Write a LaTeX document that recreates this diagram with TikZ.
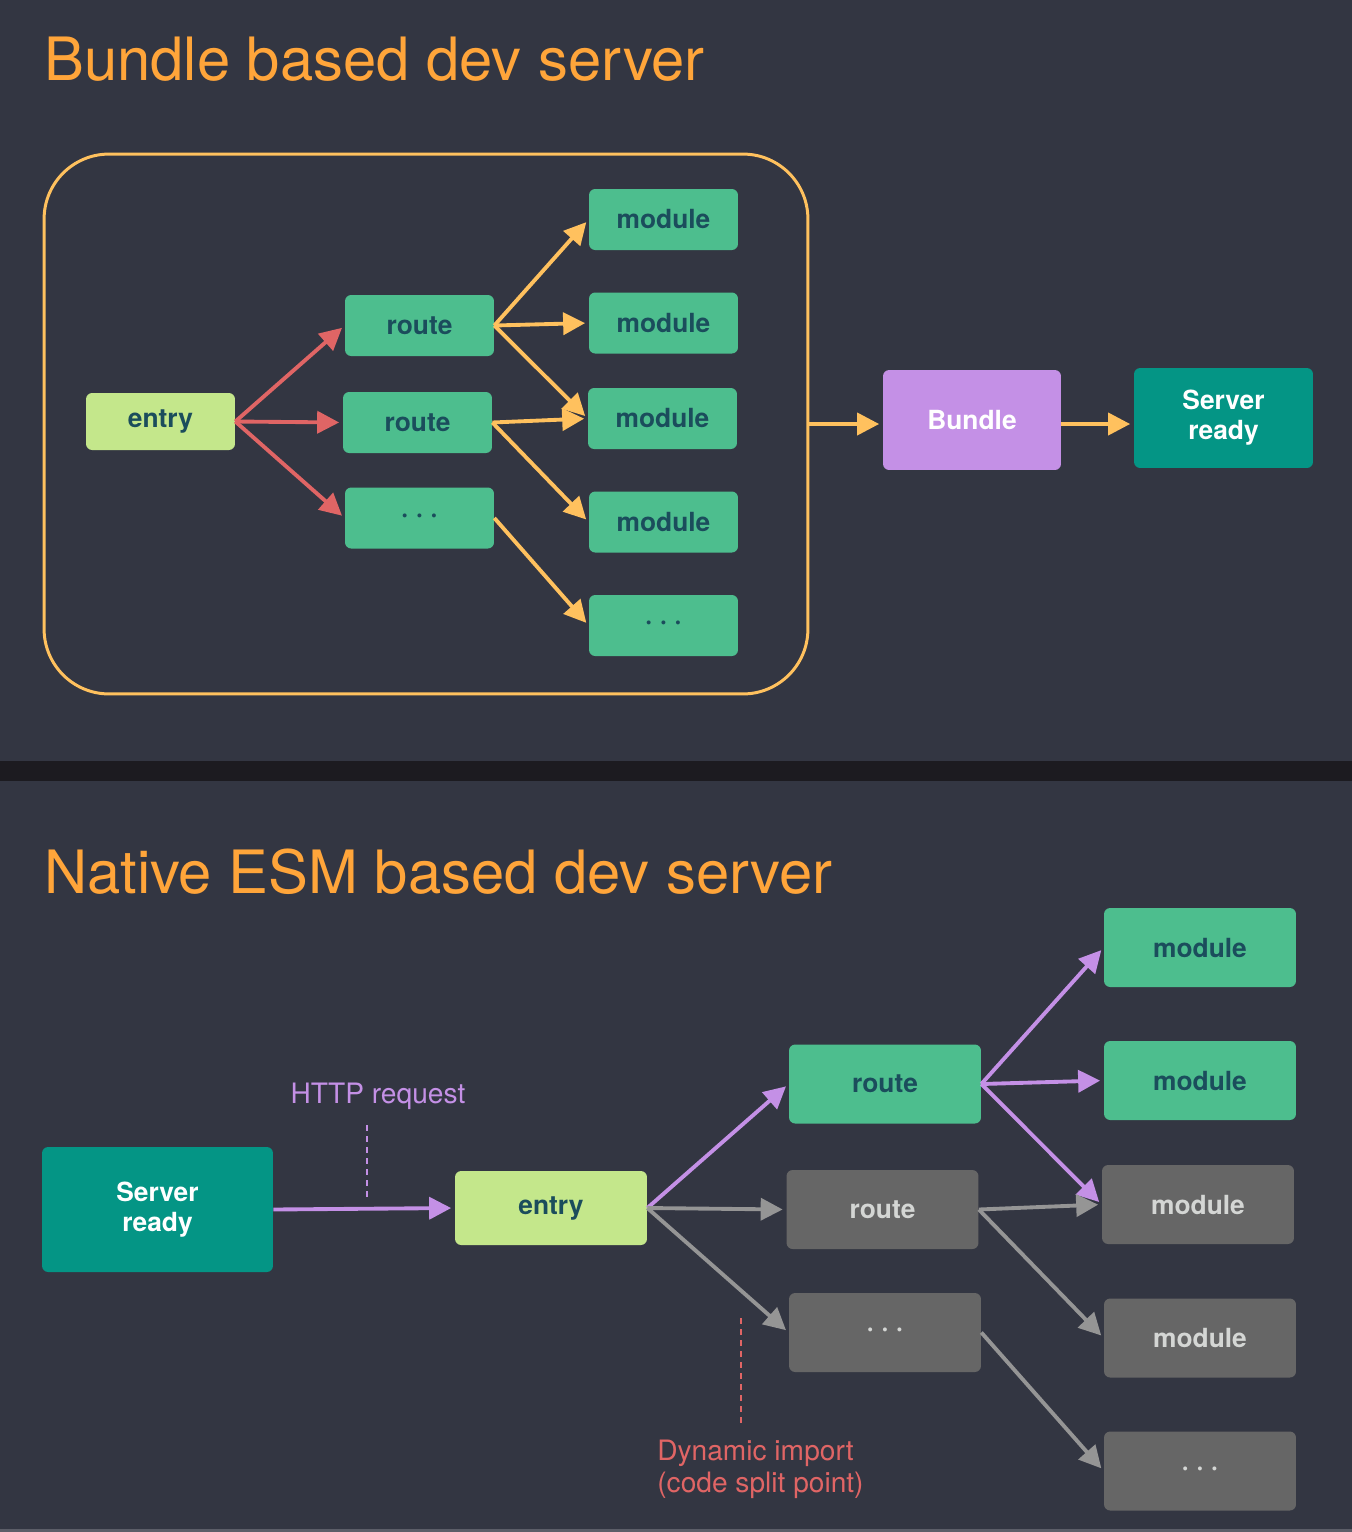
\documentclass[tikz,border=0pt]{standalone}
\usepackage{fontspec}
\setmainfont{TeX Gyre Heros}
\usetikzlibrary{arrows.meta}

\definecolor{bgcol}{HTML}{333642}
\definecolor{sepcol}{HTML}{1C1B20}
\definecolor{titlecol}{HTML}{FFA53A}
\definecolor{framecol}{HTML}{FFC15E}
\definecolor{redcol}{HTML}{E06565}
\definecolor{modgreen}{HTML}{4DBE8E}
\definecolor{darkteal}{HTML}{1B4D5C}
\definecolor{entrygreen}{HTML}{C4E78B}
\definecolor{purplecol}{HTML}{C490E6}
\definecolor{tealcol}{HTML}{049585}
\definecolor{graybox}{HTML}{666666}
\definecolor{graytext}{HTML}{D4D6D4}
\definecolor{grayarrow}{HTML}{959595}

\begin{document}
\begin{tikzpicture}[x=0.02cm,y=-0.02cm,
	box/.style={rounded corners=3.5pt,inner sep=0pt,align=center,font=\bfseries\fontsize{15}{17}\selectfont},
	greenbox/.style={box,fill=modgreen,text=darkteal},
	entrybox/.style={box,fill=entrygreen,text=darkteal},
	greybox/.style={box,fill=graybox,text=graytext},
	bundlebox/.style={box,fill=purplecol,text=white},
	serverbox/.style={box,fill=tealcol,text=white},
	small/.style={minimum width=2.98cm,minimum height=1.22cm},
	wide/.style={minimum width=3.84cm,minimum height=1.58cm},
	title/.style={anchor=base west,inner sep=0pt,text=titlecol,font=\fontsize{34}{40}\selectfont},
	note/.style={inner sep=0pt,font=\fontsize{16}{18}\selectfont},
	link/.style={line width=2.2pt,-{Triangle[length=0.44cm,width=0.44cm]},shorten >=2pt},
	redlink/.style={link,redcol},
	yellowlink/.style={link,framecol},
	purplelink/.style={link,purplecol},
	greylink/.style={link,grayarrow},
	dotline/.style={line width=1.4pt,dash pattern=on 0.12cm off 0.1cm}
]
	\useasboundingbox (0,0) rectangle (1352,1532);

	% background
	\fill[bgcol] (0,0) rectangle (1352,1532);
	\fill[sepcol] (0,761) rectangle (1352,781);
	\fill[bgcol!80!white] (0,1529) rectangle (1352,1532);

	% titles
	\node[title] (title1) at (44,80) {Bundle based dev server};
	\node[title] (title2) at (44,893) {Native ESM based dev server};

	% bundle based: blocks
	\node[draw=framecol,line width=1.7pt,rounded corners=1.3cm,minimum width=15.28cm,minimum height=10.8cm] (frame) at (426,424) {};

	\node[entrybox,minimum width=2.98cm,minimum height=1.14cm] (entry) at (160.5,421.5) {entry};
	\node[greenbox,small] (r1) at (419.5,325.5) {route};
	\node[greenbox,small] (r2) at (417.5,422.5) {route};
	\node[greenbox,small] (rd) at (419.5,518) {· · ·};
	\node[greenbox,small] (m1) at (663.5,219.5) {module};
	\node[greenbox,small] (m2) at (663.5,323) {module};
	\node[greenbox,small] (m3) at (662.5,418.5) {module};
	\node[greenbox,small] (m4) at (663.5,522) {module};
	\node[greenbox,small] (md) at (663.5,625.5) {· · ·};
	\node[bundlebox,minimum width=3.56cm,minimum height=2cm] (bundle) at (972,420) {Bundle};
	\node[serverbox,minimum width=3.58cm,minimum height=2cm] (srv) at (1223.5,418) {Server\\ready};

	% bundle based: links
	\draw[redlink] (entry.east) -- (r1.west);
	\draw[redlink] (entry.east) -- (r2.west);
	\draw[redlink] (entry.east) -- (rd.west);

	\draw[yellowlink] (r1.east) -- (m1.west);
	\draw[yellowlink] (r1.east) -- (m2.west);
	\draw[yellowlink] (r1.east) -- (m3.west);
	\draw[yellowlink] (r2.east) -- (m3.west);
	\draw[yellowlink] (r2.east) -- (m4.west);
	\draw[yellowlink] (rd.east) -- (md.west);

	\draw[yellowlink] (frame.east) -- (frame.east -| bundle.west);
	\draw[yellowlink] (bundle.east |- frame.east) -- (frame.east -| srv.west);

	% native esm: blocks
	\node[serverbox,minimum width=4.62cm,minimum height=2.5cm] (srv2) at (157.5,1209.5) {Server\\ready};
	\node[entrybox,minimum width=3.84cm,minimum height=1.48cm] (entry2) at (551,1208) {entry};
	\node[greenbox,wide] (br1) at (885,1084) {route};
	\node[greybox,wide] (br2) at (882.5,1209.5) {route};
	\node[greybox,wide] (brd) at (885,1332.5) {· · ·};
	\node[greenbox,wide] (bm1) at (1200,947.5) {module};
	\node[greenbox,wide] (bm2) at (1200,1080.5) {module};
	\node[greybox,wide] (bm3) at (1198,1204.5) {module};
	\node[greybox,wide] (bm4) at (1200,1338) {module};
	\node[greybox,wide] (bmd) at (1200,1471) {· · ·};

	% labels
	\node[note,text=purplecol] (http) at (378,1096) {HTTP request};
	\coordinate (httptop) at (367,1125);
	\coordinate (httpbot) at (367,1197);
	\draw[dotline,purplecol] (httptop) -- (httpbot);

	\node[note,text=redcol,align=left,anchor=north west] (dyn) at (657,1440) {Dynamic import\\(code split point)};
	\coordinate (dyntop) at (741,1318);
	\coordinate (dynbot) at (741,1423);
	\draw[dotline,redcol] (dyntop) -- (dynbot);

	% native esm: links
	\draw[purplelink] (srv2.east) -- (entry2.west);
	\draw[purplelink] (entry2.east) -- (br1.west);
	\draw[greylink] (entry2.east) -- (br2.west);
	\draw[greylink] (entry2.east) -- (brd.west);

	\draw[purplelink] (br1.east) -- (bm1.west);
	\draw[purplelink] (br1.east) -- (bm2.west);
	\draw[purplelink] (br1.east) -- (bm3.west);
	\draw[greylink] (br2.east) -- (bm3.west);
	\draw[greylink] (br2.east) -- (bm4.west);
	\draw[greylink] (brd.east) -- (bmd.west);

\end{tikzpicture}
\end{document}
